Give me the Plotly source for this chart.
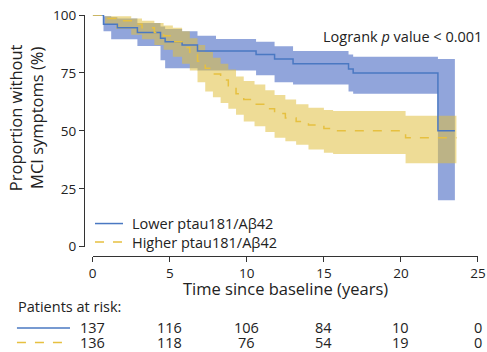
import plotly.graph_objects as go

# ---------------- data ----------------
# Lower ptau181/Aβ42 group (Kaplan-Meier estimate and 95% CI, %)
t_low = [0, 0.7, 1.2, 1.6, 2.9, 4.4, 4.7, 5.8, 6.8, 8.0, 10.6, 11.8, 13.0, 16.6, 16.9, 22.4, 23.5]
s_low = [100, 96, 96, 94.5, 92.5, 90, 88.5, 87, 84.5, 84.5, 83, 81, 79, 76.7, 75, 50, 50]
up_low = [100, 99.5, 99, 98.5, 96.5, 95, 94, 93, 91, 89.6, 88.5, 86.5, 84.5, 83, 82, 81, 81]
lo_low = [100, 93, 89.5, 89.5, 86.6, 80.5, 77, 77, 76, 76, 74, 71, 70, 67, 66, 20, 20]

# Higher ptau181/Aβ42 group
t_high = [0, 0.8, 1.5, 2.5, 3.2, 4.0, 4.6, 5.2, 5.8, 6.3, 6.8, 7.3, 7.8, 8.3, 8.8, 9.3, 9.8,
          10.5, 11.2, 11.8, 12.5, 13.2, 14.0, 15.0, 15.6, 20.3, 23.6]
s_high = [100, 98.5, 97.5, 96, 94.5, 92.5, 91, 88.5, 86, 83, 80, 77, 74.5, 72, 69.5, 66, 63.5,
          61.5, 59.5, 57.5, 55.5, 54, 52.5, 51, 50, 47, 47]
up_high = [100, 99.5, 99.5, 98.5, 97.5, 96.5, 95.5, 94.5, 93, 90, 87, 84, 81.5, 79, 76.5, 73.5, 71.5,
           70, 67.5, 65.5, 63.5, 61.5, 60, 59, 58.6, 56.5, 56.5]
lo_high = [100, 96, 94, 91.5, 89.5, 87, 85, 82, 79, 76, 71, 67, 64.5, 62, 59.5, 57, 54,
           52, 49.5, 47, 45.5, 44, 42, 40.5, 40, 36, 36]

risk_times = [0, 5, 10, 15, 20, 25]
risk_low = [137, 116, 106, 84, 10, 0]
risk_high = [136, 118, 76, 54, 19, 0]

x_ticks = [0, 5, 10, 15, 20, 25]
y_ticks = [0, 25, 50, 75, 100]

label_low = "Lower ptau181/Aβ42"
label_high = "Higher ptau181/Aβ42"

# ---------------- style ----------------
BLUE_LINE = "#4a78c2"
BLUE_FILL = "rgba(88,118,200,0.66)"
YEL_LINE = "#e6c040"
YEL_FILL = "rgba(224,191,64,0.55)"
TXT = "#222222"
AX = "#333333"
FONT = "Open Sans"

fig = go.Figure()

# CI bands
fig.add_trace(go.Scatter(x=t_low, y=lo_low, mode="lines", line=dict(width=0, shape="hv"),
                         showlegend=False, hoverinfo="skip"))
fig.add_trace(go.Scatter(x=t_low, y=up_low, mode="lines", line=dict(width=0, shape="hv"),
                         fill="tonexty", fillcolor=BLUE_FILL, showlegend=False, hoverinfo="skip"))
fig.add_trace(go.Scatter(x=t_high, y=lo_high, mode="lines", line=dict(width=0, shape="hv"),
                         showlegend=False, hoverinfo="skip"))
fig.add_trace(go.Scatter(x=t_high, y=up_high, mode="lines", line=dict(width=0, shape="hv"),
                         fill="tonexty", fillcolor=YEL_FILL, showlegend=False, hoverinfo="skip"))

# survival curves
fig.add_trace(go.Scatter(x=t_low, y=s_low, mode="lines", name=label_low,
                         line=dict(color=BLUE_LINE, width=1.5, shape="hv"), showlegend=False))
fig.add_trace(go.Scatter(x=t_high, y=s_high, mode="lines", name=label_high,
                         line=dict(color=YEL_LINE, width=1.5, shape="hv", dash="dash"),
                         showlegend=False))

# geometry (page body margin is removed below, so figure coords = screen coords)
W, H = 487, 352
ML = 84               # y-axis line at x=84
MT = 14.7             # y=100 at y=14.7
MB = H - 256          # x-axis line at y=256
MR = W - 477.7        # x=25 at x=477.7
PW = W - ML - MR
PH = H - MT - MB


def px(xs):
    return (xs - ML) / PW


def py(ys):
    return (H - MB - ys) / PH


shapes = []
annotations = []

# manual legend
leg_rows = [(label_low, BLUE_LINE, "solid", 223.5), (label_high, YEL_LINE, "dash", 242)]
for lab, col, dash, yy in leg_rows:
    shapes.append(dict(type="line", xref="paper", yref="paper", x0=px(95), x1=px(123),
                       y0=py(yy), y1=py(yy), line=dict(color=col, width=1.5, dash=dash)))
    annotations.append(dict(text=lab, xref="paper", yref="paper", x=px(130), y=py(yy),
                            xanchor="left", yanchor="middle", showarrow=False,
                            font=dict(size=14.5, color=TXT, family=FONT)))

# logrank text
annotations.append(dict(text="Logrank <i>p</i> value < 0.001", xref="paper", yref="paper",
                        x=px(484), y=py(36), xanchor="right", yanchor="middle",
                        showarrow=False, font=dict(size=14.5, color=TXT, family=FONT)))

# axis titles
annotations.append(dict(text="Time since baseline (years)", xref="paper", yref="paper",
                        x=px(285), y=py(289), xanchor="center", yanchor="middle",
                        showarrow=False, font=dict(size=16.5, color=TXT, family=FONT)))
annotations.append(dict(text="Proportion without<br>MCI symptoms (%)", xref="paper", yref="paper",
                        x=px(26), y=py(117), xanchor="center", yanchor="middle", textangle=-90,
                        showarrow=False, font=dict(size=16.5, color=TXT, family=FONT)))

# patients at risk table
annotations.append(dict(text="Patients at risk:", xref="paper", yref="paper",
                        x=px(16), y=py(307), xanchor="left", yanchor="middle",
                        showarrow=False, font=dict(size=14.5, color=TXT, family=FONT)))
risk_rows = [(risk_low, BLUE_LINE, "solid", 328), (risk_high, YEL_LINE, "dash", 342.5)]
for vals, col, dash, yy in risk_rows:
    shapes.append(dict(type="line", xref="paper", yref="paper", x0=px(17), x1=px(70),
                       y0=py(yy), y1=py(yy), line=dict(color=col, width=1.5, dash=dash)))
    for tt, v in zip(risk_times, vals):
        annotations.append(dict(text=str(v), xref="x", yref="paper", x=tt, y=py(yy),
                                xanchor="center", yanchor="middle", showarrow=False,
                                font=dict(size=14.5, color=TXT, family=FONT)))

x0_frac = px(92.7)
y0_frac = py(246.7)

fig.update_layout(
    width=W, height=H,
    margin=dict(l=ML, r=MR, t=MT, b=MB, pad=0, autoexpand=False),
    paper_bgcolor="white", plot_bgcolor="white",
    font=dict(family=FONT, color=TXT, size=13),
    shapes=shapes, annotations=annotations,
    xaxis=dict(range=[0, 25], domain=[x0_frac, 1], anchor="free", position=0,
               tickvals=x_ticks, ticks="outside", ticklen=5, tickcolor=AX,
               showline=True, linecolor=AX, linewidth=1.2, showgrid=False, zeroline=False,
               automargin=False, ticklabeloverflow="allow",
               tickfont=dict(size=13.5, color=TXT, family=FONT)),
    yaxis=dict(range=[0, 100], domain=[y0_frac, 1], anchor="free", position=0,
               tickvals=y_ticks, ticks="outside", ticklen=5, tickcolor=AX,
               showline=True, linecolor=AX, linewidth=1.2, showgrid=False, zeroline=False,
               automargin=False, ticklabeloverflow="allow",
               tickfont=dict(size=13.5, color=TXT, family=FONT)),
)

fig.write_html(
    "out.html",
    config={"displayModeBar": False},
    post_script=("document.body.style.margin='0';document.body.style.overflow='hidden';"
                 "document.documentElement.style.overflow='hidden';"),
)
